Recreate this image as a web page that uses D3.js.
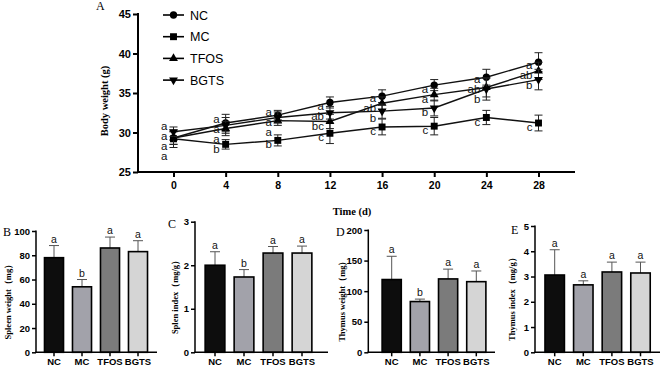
<!DOCTYPE html>
<html>
<head>
<meta charset="utf-8">
<script src="https://cdn.jsdelivr.net/npm/d3@7"></script>
<style>
	body { margin: 0; background: #fff; }
	svg { display: block; }
	text { -webkit-font-smoothing: antialiased; }
</style>
</head>
<body>
<div id="chart"></div>
<script>
// Body weight data (panel A)
const days = [0, 4, 8, 12, 16, 20, 24, 28];
const groups = ["NC", "MC", "TFOS", "BGTS"];
const ncWeight = [29.3, 31.2, 32.2, 33.8, 34.6, 36.0, 37.0, 38.9];
const mcWeight = [29.2, 28.5, 29.0, 29.9, 30.7, 30.8, 31.9, 31.2];
const tfosWeight = [29.3, 30.5, 31.5, 31.4, 33.7, 34.8, 35.7, 37.8];
const bgtsWeight = [30.1, 30.9, 31.9, 32.5, 32.7, 33.1, 35.5, 36.7];
const ncSd = [0.8, 1.1, 0.6, 0.7, 0.8, 0.7, 1.0, 1.2];
const mcSd = [1.1, 0.6, 0.7, 1.3, 1.0, 1.1, 0.9, 1.0];
const tfosSd = [0.8, 0.9, 0.6, 0.9, 0.8, 0.8, 1.2, 1.1];
const bgtsSd = [0.6, 1.0, 0.7, 0.8, 0.9, 1.0, 1.4, 1.3];
const ncLetters = ["a", "a", "a", "a", "a", "a", "a", "a"];
const mcLetters = ["a", "b", "b", "c", "c", "c", "c", "c"];
const tfosLetters = ["a", "a", "a", "bc", "ab", "a", "ab", "ab"];
const bgtsLetters = ["a", "a", "a", "ab", "b", "b", "b", "b"];
const weightTicks = [25, 30, 35, 40, 45];

// Organ data (panels B-E)
const spleenWeight = [78, 54, 86, 83];
const spleenWeightSd = [10, 6, 9, 9];
const spleenWeightLetters = ["a", "b", "a", "a"];
const spleenIndex = [2.0, 1.73, 2.28, 2.28];
const spleenIndexSd = [0.31, 0.17, 0.15, 0.16];
const spleenIndexLetters = ["a", "b", "a", "a"];
const thymusWeight = [119, 83, 120, 115.5];
const thymusWeightSd = [38, 4, 16, 17.5];
const thymusWeightLetters = ["a", "b", "a", "a"];
const thymusIndex = [3.06, 2.67, 3.18, 3.14];
const thymusIndexSd = [1.0, 0.16, 0.39, 0.43];
const thymusIndexLetters = ["a", "a", "a", "a"];

const W = 662, H = 368;
const sans = "'Liberation Sans', Arial, sans-serif";
const serif = "'Liberation Serif', 'Times New Roman', serif";

const svg = d3.select("#chart").append("svg")
	.attr("width", W)
	.attr("height", H)
	.attr("viewBox", [0, 0, W, H]);

// build series table from the arrays above
const series = [
	{ name: "NC", values: ncWeight, sd: ncSd, letters: ncLetters, symbol: d3.symbolCircle, size: 42, rot: 0 },
	{ name: "MC", values: mcWeight, sd: mcSd, letters: mcLetters, symbol: d3.symbolSquare, size: 48, rot: 0 },
	{ name: "TFOS", values: tfosWeight, sd: tfosSd, letters: tfosLetters, symbol: d3.symbolTriangle, size: 34, rot: 0 },
	{ name: "BGTS", values: bgtsWeight, sd: bgtsSd, letters: bgtsLetters, symbol: d3.symbolTriangle, size: 34, rot: 180 }
];

function drawLineChart() {
	const x = d3.scaleLinear().domain([0, 28]).range([173.5, 538.5]);
	const y = d3.scaleLinear().domain([25, 45]).range([172, 14]);
	const axisLeft = 138, axisRight = 575;

	const g = svg.append("g");

	// y axis
	const yAxis = g.append("g")
		.attr("transform", `translate(${axisLeft},0)`)
		.call(d3.axisLeft(y).tickValues(weightTicks).tickFormat(d3.format("d")).tickSize(5).tickPadding(2));
	yAxis.select(".domain").remove();
	yAxis.selectAll("line").attr("stroke-width", 2);
	yAxis.selectAll("text")
		.style("font-family", sans).style("font-size", "11px").style("font-weight", "bold");
	g.append("line")
		.attr("x1", axisLeft).attr("x2", axisLeft)
		.attr("y1", y(45) - 1).attr("y2", y(25) + 1)
		.attr("stroke", "#000").attr("stroke-width", 2);

	// x axis
	const xAxis = g.append("g")
		.attr("transform", `translate(0,${y(25)})`)
		.call(d3.axisBottom(x).tickValues(days).tickFormat(d3.format("d")).tickSize(5).tickPadding(5));
	xAxis.select(".domain").remove();
	xAxis.selectAll("line").attr("stroke-width", 2);
	xAxis.selectAll("text")
		.style("font-family", sans).style("font-size", "10.5px").style("font-weight", "bold");
	g.append("line")
		.attr("x1", axisLeft - 1).attr("x2", axisRight)
		.attr("y1", y(25)).attr("y2", y(25))
		.attr("stroke", "#000").attr("stroke-width", 2);

	// axis titles
	g.append("text")
		.attr("transform", `translate(108,${(y(45) + y(25)) / 2 + 8}) rotate(-90)`)
		.attr("text-anchor", "middle")
		.style("font-family", serif).style("font-size", "10.5px").style("font-weight", "bold")
		.text("Body weight (g)");
	g.append("text")
		.attr("x", 352).attr("y", 215)
		.attr("text-anchor", "middle")
		.style("font-family", serif).style("font-size", "10.5px").style("font-weight", "bold")
		.text("Time (d)");
	g.append("text")
		.attr("x", 96).attr("y", 10)
		.style("font-family", serif).style("font-size", "12px")
		.text("A");

	const line = d3.line().x((d, i) => x(days[i])).y(d => y(d));

	series.forEach(s => {
		const sg = g.append("g");
		sg.append("path")
			.datum(s.values)
			.attr("d", line)
			.attr("fill", "none")
			.attr("stroke", "#111")
			.attr("stroke-width", 1.4);

		// error bars
		const eb = sg.selectAll(".eb")
			.data(s.values.map((v, i) => ({ day: days[i], v: v, sd: s.sd[i] })))
			.join("g");
		eb.append("line")
			.attr("x1", d => x(d.day)).attr("x2", d => x(d.day))
			.attr("y1", d => y(d.v - d.sd)).attr("y2", d => y(d.v + d.sd))
			.attr("stroke", "#222").attr("stroke-width", 1);
		[-1, 1].forEach(sign => {
			eb.append("line")
				.attr("x1", d => x(d.day) - 4).attr("x2", d => x(d.day) + 4)
				.attr("y1", d => y(d.v + sign * d.sd)).attr("y2", d => y(d.v + sign * d.sd))
				.attr("stroke", "#222").attr("stroke-width", 1);
		});

		sg.selectAll(".pt")
			.data(s.values)
			.join("path")
			.attr("d", d3.symbol(s.symbol, s.size))
			.attr("transform", (d, i) => `translate(${x(days[i])},${y(d)}) rotate(${s.rot})`)
			.attr("fill", "#000");
	});

	// significance letters, spread apart so they don't pile up
	days.forEach((day, i) => {
		const labels = series.map(s => ({ text: s.letters[i], y: y(s.values[i]) + 4 }))
			.sort((a, b) => a.y - b.y);
		const gap = 10;
		for (let iter = 0; iter < 60; iter++) {
			for (let k = 1; k < labels.length; k++) {
				const d = labels[k].y - labels[k - 1].y;
				if (d < gap) {
					const push = (gap - d) / 2;
					labels[k].y += push;
					labels[k - 1].y -= push;
				}
			}
		}
		g.selectAll(null)
			.data(labels)
			.join("text")
			.attr("x", x(day) - 6)
			.attr("y", d => d.y)
			.attr("dy", "0.35em")
			.attr("text-anchor", "end")
			.style("font-family", sans).style("font-size", "11.5px")
			.attr("fill", "#111")
			.text(d => d.text);
	});

	// legend
	const legend = g.append("g");
	series.forEach((s, i) => {
		const ly = 15 + i * 21.7;
		legend.append("line")
			.attr("x1", 163).attr("x2", 184)
			.attr("y1", ly).attr("y2", ly)
			.attr("stroke", "#000").attr("stroke-width", 1.6);
		legend.append("path")
			.attr("d", d3.symbol(s.symbol, s.size))
			.attr("transform", `translate(173.5,${ly}) rotate(${s.rot})`)
			.attr("fill", "#000");
		legend.append("text")
			.attr("x", 190).attr("y", ly)
			.attr("dy", "0.36em")
			.style("font-family", sans).style("font-size", "12.5px")
			.text(s.name);
	});
}

const barColors = ["#0d0d0d", "#a2a2aa", "#7b7b7b", "#d5d5d5"];

// Draw one bar panel
function drawBarPanel(p) {
	const g = svg.append("g");
	const y = d3.scaleLinear().domain([0, p.max]).range([352.3, p.top]);
	const x = d3.scaleBand().domain(groups).range(p.range).paddingInner(0.32).paddingOuter(0.16);

	const rows = groups.map((name, i) => ({ name: name, v: p.values[i], sd: p.sd[i], letter: p.letters[i], color: barColors[i] }));

	// error whiskers (upper only)
	g.selectAll(".whisker")
		.data(rows)
		.join("line")
		.attr("x1", d => x(d.name) + x.bandwidth() / 2)
		.attr("x2", d => x(d.name) + x.bandwidth() / 2)
		.attr("y1", d => y(d.v)).attr("y2", d => y(d.v + d.sd))
		.attr("stroke", "#555").attr("stroke-width", 1);
	g.selectAll(".cap")
		.data(rows)
		.join("line")
		.attr("x1", d => x(d.name) + x.bandwidth() / 2 - 5)
		.attr("x2", d => x(d.name) + x.bandwidth() / 2 + 5)
		.attr("y1", d => y(d.v + d.sd)).attr("y2", d => y(d.v + d.sd))
		.attr("stroke", "#555").attr("stroke-width", 1);

	g.selectAll(".bar")
		.data(rows)
		.join("rect")
		.attr("x", d => x(d.name))
		.attr("y", d => y(d.v))
		.attr("width", x.bandwidth())
		.attr("height", d => y(0) - y(d.v))
		.attr("fill", d => d.color)
		.attr("stroke", "#000")
		.attr("stroke-width", 1.6);

	g.selectAll(".letter")
		.data(rows)
		.join("text")
		.attr("x", d => x(d.name) + x.bandwidth() / 2)
		.attr("y", d => y(d.v + d.sd) - 3)
		.attr("text-anchor", "middle")
		.style("font-family", sans).style("font-size", "10.5px")
		.attr("fill", "#111")
		.text(d => d.letter);

	// axes
	const yAxis = g.append("g")
		.attr("transform", `translate(${p.axisX},0)`)
		.call(d3.axisLeft(y).tickValues(p.ticks).tickFormat(d3.format("d")).tickSize(4).tickPadding(2));
	yAxis.select(".domain").remove();
	yAxis.selectAll("line").attr("stroke-width", 1.5);
	yAxis.selectAll("text")
		.style("font-family", sans).style("font-size", "9.5px").style("font-weight", "bold");
	g.append("line")
		.attr("x1", p.axisX).attr("x2", p.axisX)
		.attr("y1", p.top - 0.5).attr("y2", y(0))
		.attr("stroke", "#000").attr("stroke-width", 1.5);

	const xAxis = g.append("g")
		.attr("transform", `translate(0,${y(0)})`)
		.call(d3.axisBottom(x).tickSize(4).tickPadding(2));
	xAxis.select(".domain").remove();
	xAxis.selectAll("line").attr("stroke-width", 1.5);
	xAxis.selectAll("text")
		.style("font-family", sans).style("font-size", "9.5px").style("font-weight", "bold");
	g.append("line")
		.attr("x1", p.axisX - 0.75).attr("x2", p.axisEnd)
		.attr("y1", y(0)).attr("y2", y(0))
		.attr("stroke", "#000").attr("stroke-width", 1.5);

	g.append("text")
		.attr("transform", `translate(${p.labelX},${(p.top + y(0)) / 2 + 8}) rotate(-90)`)
		.attr("text-anchor", "middle")
		.style("font-family", serif).style("font-size", "8.5px").style("font-weight", "bold")
		.text(p.title);

	g.append("text")
		.attr("x", p.letterX).attr("y", p.letterY)
		.style("font-family", serif).style("font-size", "12px")
		.text(p.panel);
}

drawLineChart();

drawBarPanel({ panel: "B", title: "Spleen weight（mg）", values: spleenWeight, sd: spleenWeightSd, letters: spleenWeightLetters,
	max: 100, ticks: [0, 20, 40, 60, 80, 100], top: 231, axisX: 36, axisEnd: 157, range: [40, 152], labelX: 11, letterX: 3, letterY: 236 });
drawBarPanel({ panel: "C", title: "Splen index（mg/g）", values: spleenIndex, sd: spleenIndexSd, letters: spleenIndexLetters,
	max: 3, ticks: [0, 1, 2, 3], top: 221.7, axisX: 195, axisEnd: 328, range: [200.5, 316.5], labelX: 178, letterX: 168, letterY: 228 });
drawBarPanel({ panel: "D", title: "Thymus weight（mg）", values: thymusWeight, sd: thymusWeightSd, letters: thymusWeightLetters,
	max: 200, ticks: [0, 50, 100, 150, 200], top: 230, axisX: 368.3, axisEnd: 495, range: [377.6, 490.4], labelX: 345, letterX: 336, letterY: 236 });
drawBarPanel({ panel: "E", title: "Thymus index（mg/g）", values: thymusIndex, sd: thymusIndexSd, letters: thymusIndexLetters,
	max: 5, ticks: [0, 1, 2, 3, 4, 5], top: 226, axisX: 535, axisEnd: 660, range: [540.4, 654.8], labelX: 515, letterX: 511, letterY: 234 });
</script>
</body>
</html>
